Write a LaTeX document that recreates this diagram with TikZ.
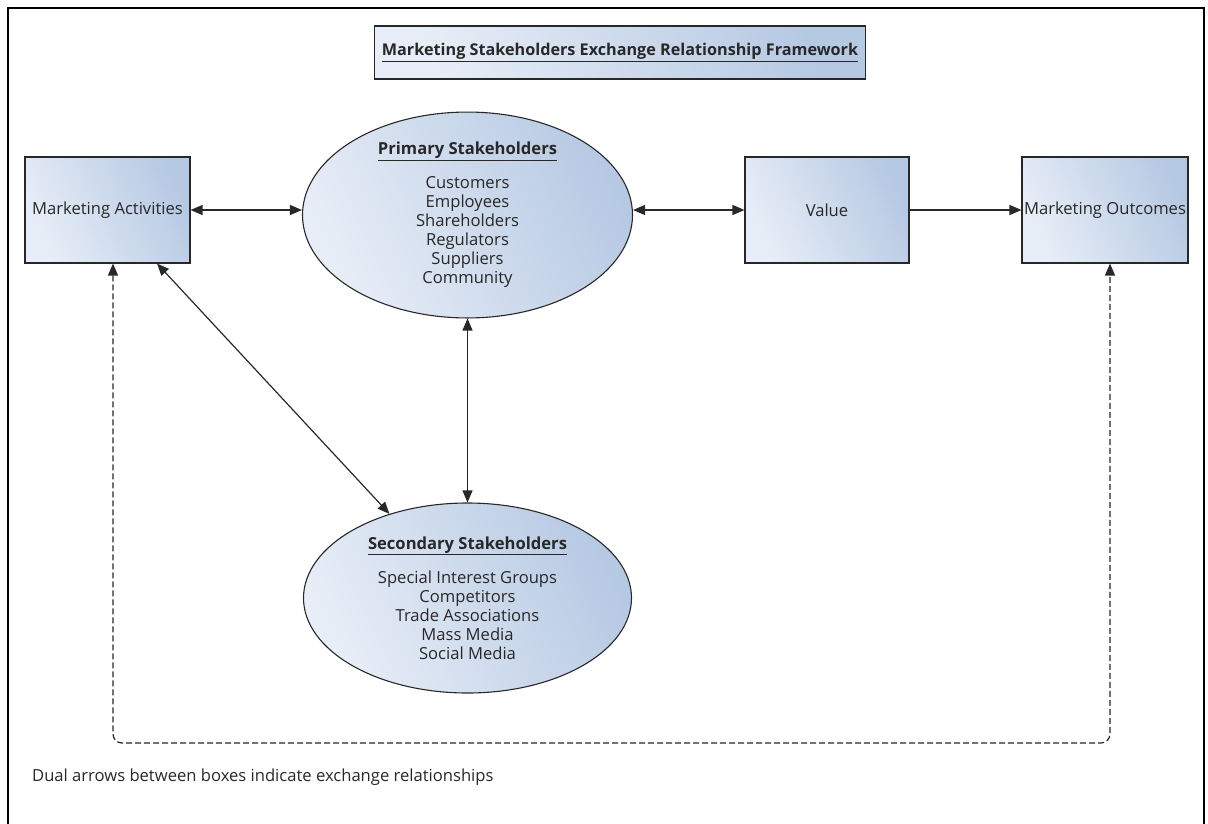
\documentclass[tikz,border=0pt]{standalone}
\usepackage{fontspec}
\setmainfont{Open Sans}
\usetikzlibrary{arrows.meta,shapes.geometric}
\definecolor{shadelight}{RGB}{232,238,247}
\definecolor{shadedark}{RGB}{182,201,227}
\definecolor{inkgrey}{RGB}{40,40,40}
\tikzset{
  shaded/.style={draw=inkgrey, line width=1.1pt, left color=shadelight, right color=shadedark, shading angle=115},
  box/.style={shaded, rectangle, inner sep=0pt},
  oval/.style={shaded, ellipse, inner sep=0pt, align=center},
  label text/.style={font=\fontsize{16.6}{19}\selectfont, text=inkgrey},
  tip/.style={-{Triangle[length=12pt,width=10pt]}},
  twotip/.style={{Triangle[length=12pt,width=10pt]}-{Triangle[length=12pt,width=10pt]}},
  link/.style={draw=inkgrey, line width=1.2pt},
  dashlink/.style={link, dash pattern=on 6pt off 3pt, rounded corners=9pt}
}
\begin{document}
\begin{tikzpicture}[x=1pt,y=-1pt]
\useasboundingbox (0,0) rectangle (1208,823);
% outer frame, open at the bottom edge
\draw[line width=2pt, black] (8,830) -- (8,8) -- (1204,8) -- (1204,830);

% heading
\node[box, minimum width=491pt, minimum height=53pt, label text, font=\fontsize{16.2}{19}\selectfont\bfseries]
  (title) at (620,52.5) {\underline{Marketing Stakeholders Exchange Relationship Framework}};

% boxes in the top row
\node[box, minimum width=165pt, minimum height=106pt, label text] (ma) at (107.5,210) {Marketing Activities};
\node[box, minimum width=164pt, minimum height=106pt, label text] (val) at (827,210) {Value};
\node[box, minimum width=166pt, minimum height=106pt, label text] (mo) at (1105,210) {Marketing Outcomes};

% stakeholder groups
\node[oval, minimum width=330pt, minimum height=182pt, label text] (ps) at (467.5,215)
  {\textbf{\underline{Primary Stakeholders}}\\[15pt]Customers\\Employees\\Shareholders\\Regulators\\Suppliers\\Community};
\node[oval, minimum width=328pt, minimum height=190pt, label text] (ss) at (467.5,598)
  {\textbf{\underline{Secondary Stakeholders}}\\[15pt]Special Interest Groups\\Competitors\\Trade Associations\\Mass Media\\Social Media};

% exchange relationships
\draw[link, twotip] (ma.east) -- (ma.east -| ps.west);
\draw[link, twotip] (val.west -| ps.east) -- (val.west);
\draw[link, tip] (val.east) -- (mo.west);
\draw[link, twotip] (ps.south) -- (ss.north);
\draw[link, twotip] (ma) -- (ss);

% feedback loop
\coordinate (dl) at (113,743);
\coordinate (dr) at (1110,743);
\draw[dashlink, twotip] (ma.south -| dl) -- (dl) -- (dr) -- (mo.south -| dr);

% footnote
\node[label text, anchor=west, inner sep=0pt] (note) at (32,777) {Dual arrows between boxes indicate exchange relationships};
\end{tikzpicture}
\end{document}
